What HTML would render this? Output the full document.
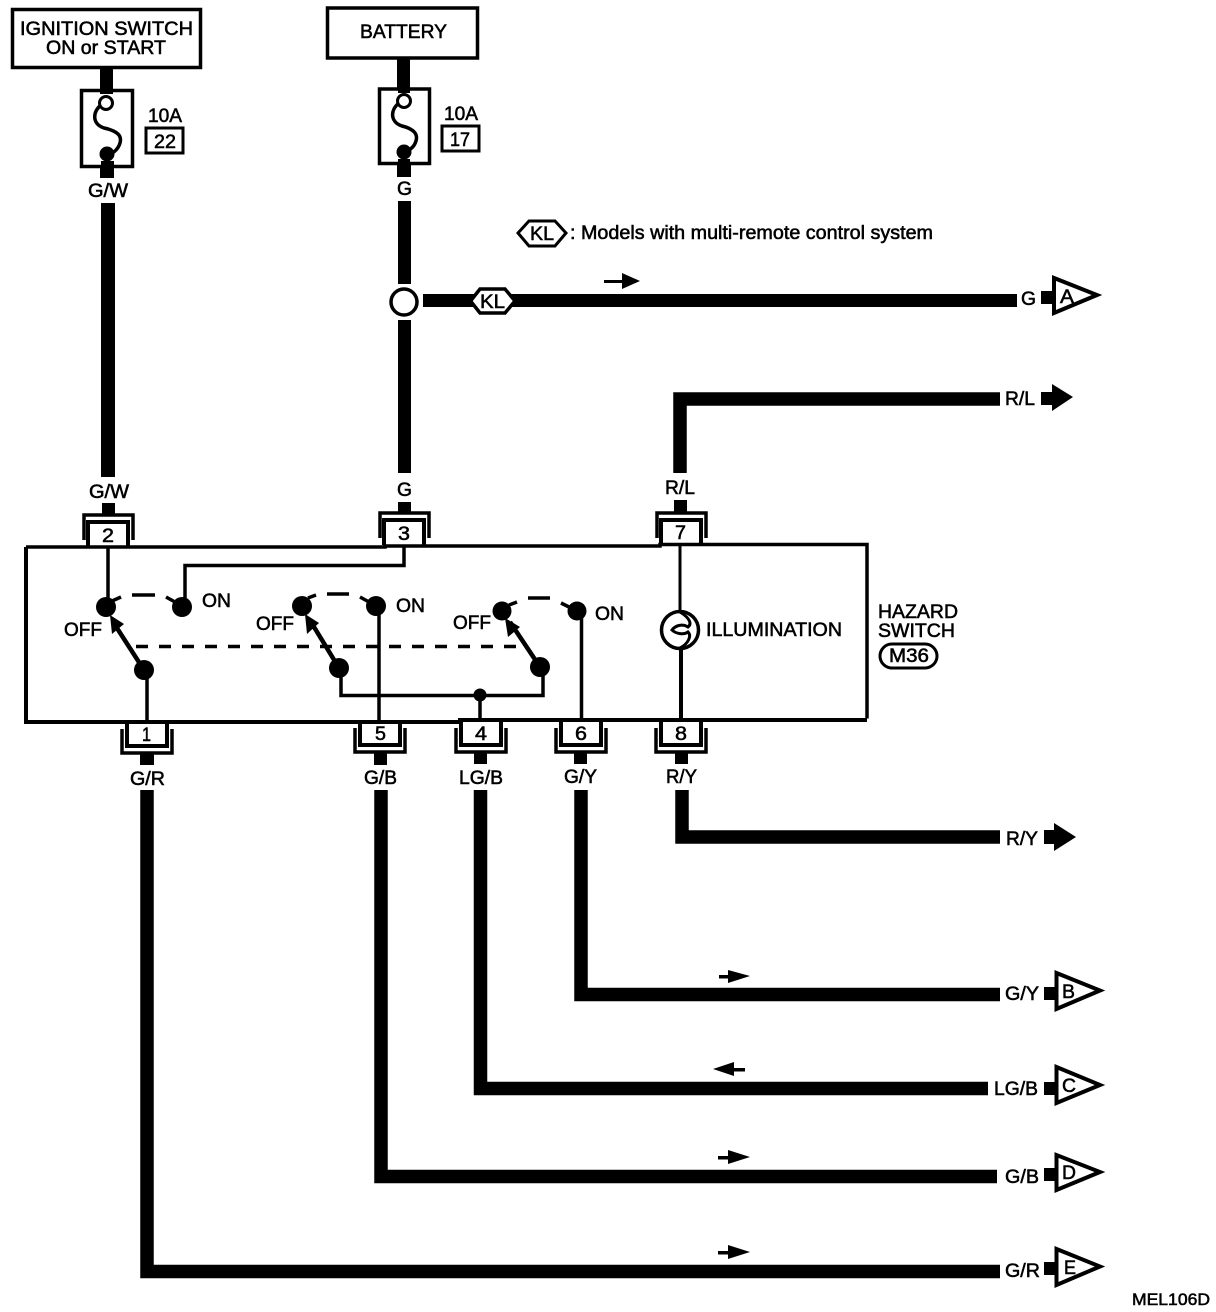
<!DOCTYPE html>
<html><head><meta charset="utf-8"><title>Hazard switch wiring</title>
<style>html,body{margin:0;padding:0;background:#fff}svg{display:block}
text{font-family:"Liberation Sans",sans-serif;fill:#000;stroke:#000;stroke-width:.55;font-size:19px}
.c{text-anchor:start}</style></head><body>
<svg width="1216" height="1312" viewBox="0 0 1216 1312" xmlns="http://www.w3.org/2000/svg">
<rect width="1216" height="1312" fill="#fff"/>
<defs>
<g id="ct"><path d="M-24 27V2H25V27" fill="none" stroke="#000" stroke-width="3.5"/><path d="M-20 34V9H20V34" fill="#fff" stroke="#000" stroke-width="4"/></g>
<g id="cb"><path d="M-25 0V24H25V0" fill="none" stroke="#000" stroke-width="3.5"/><path d="M-20 -8V17H20V-8" fill="#fff" stroke="#000" stroke-width="4"/></g>
</defs>
<!-- top boxes -->
<rect x="12.500" y="9.500" width="188" height="58" fill="none" stroke="#000" stroke-width="3.500"/>
<rect x="327.500" y="8" width="150" height="50" fill="none" stroke="#000" stroke-width="3.500"/>
<text x="20" y="35" textLength="173" lengthAdjust="spacingAndGlyphs">IGNITION SWITCH</text>
<text x="46" y="54" textLength="120" lengthAdjust="spacingAndGlyphs">ON or START</text>
<text x="360" y="38" textLength="87" lengthAdjust="spacingAndGlyphs">BATTERY</text>
<!-- wires -->
<g fill="#000">
<rect x="100" y="68" width="13" height="22"/><rect x="100" y="166" width="14" height="12"/>
<rect x="101" y="203" width="14" height="274"/><rect x="102" y="503" width="13" height="12"/>
<rect x="397" y="58" width="13" height="30"/><rect x="397" y="164" width="14" height="13"/>
<rect x="398" y="201" width="13" height="83"/><rect x="398" y="320" width="13" height="153"/>
<rect x="398" y="502" width="13" height="11"/>
<rect x="423" y="294" width="594" height="13"/>
<rect x="674" y="500" width="13" height="12"/>
<rect x="140" y="753" width="14" height="12"/><rect x="374" y="753" width="13" height="12"/>
<rect x="474" y="752" width="13" height="12"/><rect x="574" y="752" width="13" height="12"/><rect x="675" y="752" width="13" height="12"/>
</g>
<g fill="none" stroke="#000" stroke-width="13.500" stroke-linejoin="miter">
<path d="M680 473V399H1000"/>
<path d="M682 790V837H1000"/>
<path d="M581 790V994.500H1000"/>
<path d="M480.500 790V1088.500H988"/>
<path d="M381 790V1176.500H997"/>
<path d="M147 790V1271.500H1000"/>
</g>
<!-- fuses -->
<rect x="81.500" y="90.500" width="51" height="76" fill="#fff" stroke="#000" stroke-width="3.500"/>
<rect x="379.500" y="89" width="50" height="74.500" fill="#fff" stroke="#000" stroke-width="3.500"/>
<g fill="none" stroke="#000" stroke-width="3.500">
<path d="M102 104C92 112 92 124 104 128C118 131 122 136 120 143C118 150 112 154 108 155"/>
<path d="M399 103C390 110 390 122 402 126C414 129 418 134 416 141C414 148 408 151 404 152"/>
</g>
<rect x="100" y="88" width="13" height="6"/><rect x="398" y="88" width="12" height="5"/>
<circle cx="106" cy="103" r="6.500" fill="#fff" stroke="#000" stroke-width="3"/>
<circle cx="404" cy="101" r="6.500" fill="#fff" stroke="#000" stroke-width="3"/>
<circle cx="107" cy="154" r="7.500"/><circle cx="404" cy="152" r="7.500"/>
<rect x="101" y="161" width="13" height="6"/><rect x="398" y="159" width="12" height="5"/>
<text x="148" y="122" textLength="34" lengthAdjust="spacingAndGlyphs">10A</text>
<text x="444" y="120" textLength="34" lengthAdjust="spacingAndGlyphs">10A</text>
<rect x="146" y="128" width="37" height="25" fill="#fff" stroke="#000" stroke-width="3"/>
<rect x="442" y="126" width="37" height="25" fill="#fff" stroke="#000" stroke-width="3"/>
<text x="154" y="148" textLength="22" lengthAdjust="spacingAndGlyphs">22</text>
<text x="450" y="146" textLength="20" lengthAdjust="spacingAndGlyphs">17</text>
<!-- wire labels top -->
<text x="88" y="197" textLength="40" lengthAdjust="spacingAndGlyphs">G/W</text>
<text x="397" y="195" textLength="15" lengthAdjust="spacingAndGlyphs">G</text>
<text x="89" y="498" textLength="40" lengthAdjust="spacingAndGlyphs">G/W</text>
<text x="397" y="496" textLength="15" lengthAdjust="spacingAndGlyphs">G</text>
<text x="665" y="494" textLength="30" lengthAdjust="spacingAndGlyphs">R/L</text>
<!-- splice -->
<circle cx="404" cy="302" r="13" fill="#fff" stroke="#000" stroke-width="3.500"/>
<!-- KL -->
<path d="M470.500 301L480 289H505L515 301L505 313H480Z" fill="#fff" stroke="#000" stroke-width="3.500"/>
<text x="480" y="308" textLength="25" lengthAdjust="spacingAndGlyphs">KL</text>
<path d="M518 233L529 221H555L566 233L555 246H529Z" fill="#fff" stroke="#000" stroke-width="3"/>
<text x="530" y="240" textLength="24" lengthAdjust="spacingAndGlyphs">KL</text>
<text x="570" y="239" textLength="363" lengthAdjust="spacingAndGlyphs">: Models with multi-remote control system</text>
<!-- small arrows -->
<g fill="#000">
<rect x="604" y="280" width="20" height="3"/><path d="M622 273L640 281L622 289Z"/>
<rect x="719" y="975" width="14" height="3.500"/><path d="M728 970L750 976L728 983Z"/>
<rect x="730" y="1068" width="15" height="3.500"/><path d="M713 1069L734 1062V1076Z"/>
<rect x="718" y="1156" width="14" height="3.500"/><path d="M728 1150L750 1157L728 1164Z"/>
<rect x="718" y="1251" width="14" height="3.500"/><path d="M728 1245L750 1252L728 1259Z"/>
</g>
<!-- connectors -->
<use href="#ct" x="108" y="513"/><use href="#ct" x="404" y="511"/><use href="#ct" x="681" y="511"/>
<use href="#cb" x="147" y="729"/><use href="#cb" x="380" y="728"/><use href="#cb" x="481" y="728"/><use href="#cb" x="581" y="728"/><use href="#cb" x="681" y="728"/>
<!-- switch body: separate strokes so no diagonal closes the outline -->
<path d="M26 547H385V546H660V544.500H867V718.500" fill="none" stroke="#000" stroke-width="3.500"/>
<path d="M26 547V722H120" fill="none" stroke="#000" stroke-width="4"/>
<path d="M120 722H460V720H867" fill="none" stroke="#000" stroke-width="4"/>
<!-- terminal numbers -->
<text x="102" y="542" textLength="12" lengthAdjust="spacingAndGlyphs">2</text>
<text x="398" y="540" textLength="12" lengthAdjust="spacingAndGlyphs">3</text>
<text x="675" y="539" textLength="11" lengthAdjust="spacingAndGlyphs">7</text>
<text x="142" y="741" textLength="9" lengthAdjust="spacingAndGlyphs">1</text>
<text x="375" y="740" textLength="11" lengthAdjust="spacingAndGlyphs">5</text>
<text x="475" y="740" textLength="12" lengthAdjust="spacingAndGlyphs">4</text>
<text x="575" y="740" textLength="12" lengthAdjust="spacingAndGlyphs">6</text>
<text x="675" y="740" textLength="12" lengthAdjust="spacingAndGlyphs">8</text>
<!-- internal wiring -->
<g fill="none" stroke="#000" stroke-width="3.500">
<path d="M108 547V607"/>
<path d="M404 546V565.500H185V607"/>
<path d="M147 670V722"/>
<path d="M379 606V720"/>
<path d="M341 668V695.500H543V667"/>
<path d="M480 694V720"/>
<path d="M581.500 611V720"/>
<path d="M680 546V612" stroke-width="3"/>
<path d="M681 648V719" stroke-width="4"/>
<path d="M136 646.500H520" stroke-dasharray="12 11" stroke-width="3.500"/>
<path d="M112 601L121 597M132 595H155M166 597L175 602"/>
<path d="M308 598L316 595M327 594H349M360 597L369 602"/>
<path d="M509 605L517 602M528 598H550M561 603L569 607"/>
<path d="M144 670L115 625M339 668L311 622M540 667L510 622" stroke-width="4.500"/>
</g>
<g fill="#000">
<circle cx="106" cy="607" r="10"/><circle cx="182" cy="607" r="10"/><circle cx="144" cy="670" r="10"/>
<circle cx="302" cy="606" r="10"/><circle cx="376" cy="606" r="10"/><circle cx="339" cy="668" r="10"/>
<circle cx="502" cy="611" r="9.500"/><circle cx="577" cy="611" r="9.500"/><circle cx="540" cy="667" r="10"/>
<circle cx="480" cy="695" r="6.500"/>
<path d="M110 615L124 624L112 634Z"/><path d="M305 614L319 623L307 634Z"/><path d="M505 618L520 627L508 637Z"/>
</g>
<text x="64" y="636" textLength="38" lengthAdjust="spacingAndGlyphs">OFF</text>
<text x="256" y="630" textLength="38" lengthAdjust="spacingAndGlyphs">OFF</text>
<text x="453" y="629" textLength="38" lengthAdjust="spacingAndGlyphs">OFF</text>
<text x="202" y="607" textLength="29" lengthAdjust="spacingAndGlyphs">ON</text>
<text x="396" y="612" textLength="29" lengthAdjust="spacingAndGlyphs">ON</text>
<text x="595" y="620" textLength="29" lengthAdjust="spacingAndGlyphs">ON</text>
<!-- lamp -->
<circle cx="680" cy="630" r="18.500" fill="#fff" stroke="#000" stroke-width="3.500"/>
<path d="M680 612C690 618 692 624 688 627C682 623 675 626 672 630C676 634 684 635 688 632C692 636 688 644 680 648" fill="none" stroke="#000" stroke-width="3"/>
<text x="706" y="636" textLength="136" lengthAdjust="spacingAndGlyphs">ILLUMINATION</text>
<text x="878" y="618" textLength="80" lengthAdjust="spacingAndGlyphs">HAZARD</text>
<text x="878" y="637" textLength="77" lengthAdjust="spacingAndGlyphs">SWITCH</text>
<rect x="880" y="644" width="57" height="24" rx="12" fill="#fff" stroke="#000" stroke-width="3"/>
<text x="889" y="662" textLength="40" lengthAdjust="spacingAndGlyphs">M36</text>
<!-- bottom labels -->
<text x="130" y="785" textLength="35" lengthAdjust="spacingAndGlyphs">G/R</text>
<text x="364" y="784" textLength="33" lengthAdjust="spacingAndGlyphs">G/B</text>
<text x="459" y="784" textLength="44" lengthAdjust="spacingAndGlyphs">LG/B</text>
<text x="564" y="783" textLength="33" lengthAdjust="spacingAndGlyphs">G/Y</text>
<text x="666" y="783" textLength="31" lengthAdjust="spacingAndGlyphs">R/Y</text>
<!-- right side labels -->
<text x="1021" y="305" textLength="15" lengthAdjust="spacingAndGlyphs">G</text>
<text x="1005" y="405" textLength="30" lengthAdjust="spacingAndGlyphs">R/L</text>
<text x="1006" y="845" textLength="32" lengthAdjust="spacingAndGlyphs">R/Y</text>
<text x="1005" y="1000" textLength="34" lengthAdjust="spacingAndGlyphs">G/Y</text>
<text x="994" y="1095" textLength="44" lengthAdjust="spacingAndGlyphs">LG/B</text>
<text x="1005" y="1183" textLength="34" lengthAdjust="spacingAndGlyphs">G/B</text>
<text x="1005" y="1277" textLength="35" lengthAdjust="spacingAndGlyphs">G/R</text>
<!-- terminators -->
<g fill="#000">
<rect x="1041" y="291" width="13" height="13"/>
<rect x="1041" y="392" width="12" height="13"/><path d="M1052 384L1073 397L1052 411Z"/>
<rect x="1044" y="830" width="11" height="14"/><path d="M1054 823L1076 837L1054 851Z"/>
<rect x="1044" y="987" width="12" height="13"/><rect x="1044" y="1082" width="12" height="13"/>
<rect x="1044" y="1168" width="12" height="13"/><rect x="1044" y="1262" width="12" height="13"/>
</g>
<g fill="#fff" stroke="#000" stroke-width="4">
<path d="M1054 278V313L1097 295Z"/>
<path d="M1056.500 973V1009L1100 990.500Z"/>
<path d="M1056.500 1067V1103L1100 1085Z"/>
<path d="M1056.500 1155V1190L1100 1172Z"/>
<path d="M1056.500 1249V1285L1100 1266.500Z"/>
</g>
<text x="1060" y="303" textLength="14" lengthAdjust="spacingAndGlyphs">A</text>
<text x="1062" y="998" textLength="13" lengthAdjust="spacingAndGlyphs">B</text>
<text x="1062" y="1092" textLength="14" lengthAdjust="spacingAndGlyphs">C</text>
<text x="1062" y="1179" textLength="14" lengthAdjust="spacingAndGlyphs">D</text>
<text x="1064" y="1274" textLength="12" lengthAdjust="spacingAndGlyphs">E</text>
<text x="1132" y="1305" textLength="78" lengthAdjust="spacingAndGlyphs" style="font-size:17px">MEL106D</text>
</svg>
</body></html>
